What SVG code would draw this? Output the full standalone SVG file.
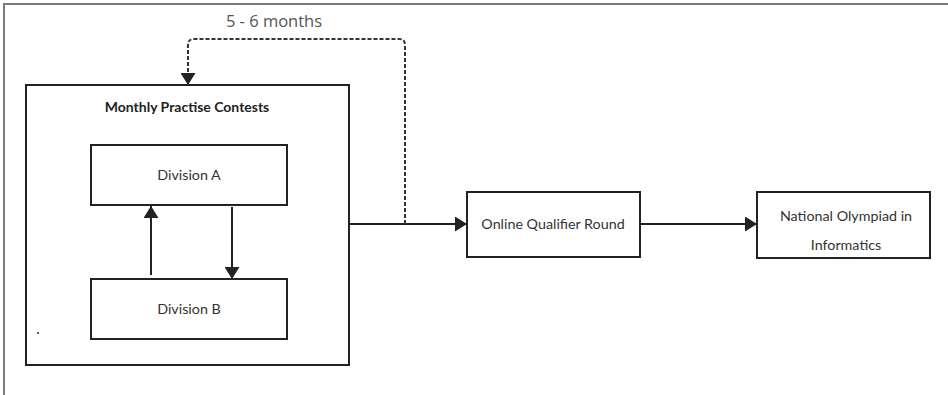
<svg xmlns="http://www.w3.org/2000/svg" width="948" height="395" viewBox="0 0 948 395">
<defs>
<style>
.box{fill:#fff;stroke:#222;stroke-width:2}
.lbl{font-family:Lato,"Open Sans","Liberation Sans",sans-serif;font-size:14.3px;fill:#333;text-anchor:middle}
.title{font-weight:bold;fill:#222;font-size:14px}
.edge{fill:none;stroke:#222;stroke-width:2}
.dash{fill:none;stroke:#333;stroke-width:2;stroke-dasharray:4 2}
</style>
<marker id="ah" viewBox="0 0 12 15" refX="12" refY="7.5" markerWidth="12" markerHeight="15" orient="auto" markerUnits="userSpaceOnUse">
<path d="M0,0 L12,7.5 L0,15 z" fill="#222"/>
</marker>
</defs>
<rect width="948" height="395" fill="#fff"/>
<path d="M4,395 V4 H948" fill="none" stroke="#7a7a7a" stroke-width="2"/>
<g id="monthly">
<rect class="box" x="26" y="85" width="323" height="280"/>
<text class="lbl title" x="187" y="112">Monthly Practise Contests</text>
<circle cx="38" cy="333" r="1" fill="#222"/>
</g>
<g id="divA">
<rect class="box" x="91" y="145" width="196" height="60"/>
<text class="lbl" x="189" y="180">Division A</text>
</g>
<g id="divB">
<rect class="box" x="91" y="279" width="196" height="60"/>
<text class="lbl" x="189" y="314">Division B</text>
</g>
<g id="qualifier">
<rect class="box" x="467" y="192" width="173" height="65"/>
<text class="lbl" x="553" y="229">Online Qualifier Round</text>
</g>
<g id="noi">
<rect class="box" x="757" y="192" width="173" height="66"/>
<text class="lbl" x="846" y="221">National Olympiad in</text>
<text class="lbl" x="846" y="250">Informatics</text>
</g>
<g id="connectors">
<path class="edge" d="M151,275 V206" marker-end="url(#ah)"/>
<path class="edge" d="M232,207 V279" marker-end="url(#ah)"/>
<path class="edge" d="M349,224 H467" marker-end="url(#ah)"/>
<path class="edge" d="M640,224 H757" marker-end="url(#ah)"/>
<path class="dash" d="M405,224 V45 Q405,39 399,39 H194 Q188,39 188,45 V85" marker-end="url(#ah)"/>
<text x="274" y="27" font-family="'Open Sans',Lato,'Liberation Sans',sans-serif" font-size="16.5" fill="#555" text-anchor="middle">5 - 6 months</text>
</g>
</svg>
